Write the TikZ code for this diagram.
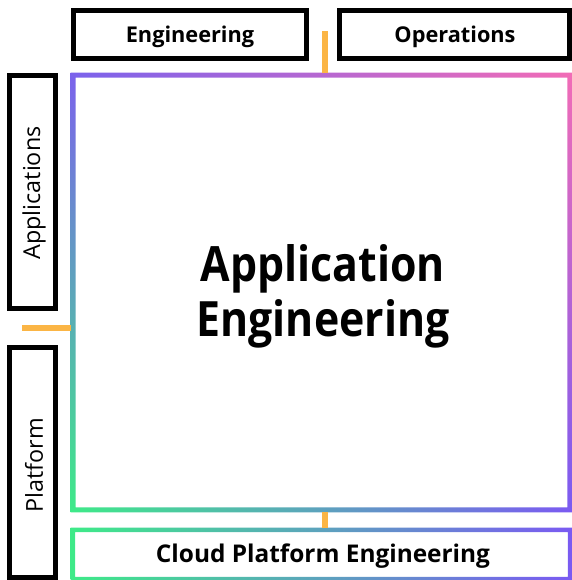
\documentclass[tikz,border=0pt]{standalone}
\usepackage{fontspec}
\usetikzlibrary{shadings}
\setmainfont{Open Sans}
\newfontfamily\bigfont[FakeStretch=0.88]{Open Sans}
\definecolor{ul}{HTML}{7B62EC}
\definecolor{ur}{HTML}{F26CB6}
\definecolor{ll}{HTML}{3EEA88}
\definecolor{lr}{HTML}{7A5AF2}
\definecolor{conn}{HTML}{FBB545}
\def\pxu{0.75pt}
\tikzset{
  x=0.75pt, y=-0.75pt,
  blackbox/.style={draw=black, line width=5*\pxu, fill=white, inner sep=0pt, text=black},
  toplabel/.style={font=\bfseries\fontsize{16.3}{19}\selectfont},
  cloudlabel/.style={font=\bfseries\fontsize{18.3}{21}\selectfont},
  sidelabel/.style={font=\fontsize{17.5}{20}\selectfont, rotate=90},
  connector/.style={draw=conn, line width=6*\pxu},
}
\begin{document}
\begin{tikzpicture}
\useasboundingbox (0,0) rectangle (571,580);
% top boxes
\node[blackbox, minimum width=233*\pxu, minimum height=48*\pxu] (eng) at (190,34.5) {};
\node[toplabel] (englbl) at (190,37) {Engineering};
\node[blackbox, minimum width=230*\pxu, minimum height=48*\pxu] (ops) at (454.5,34.5) {};
\node[toplabel] (opslbl) at (455,37) {Operations};
% side boxes
\node[blackbox, minimum width=46*\pxu, minimum height=233*\pxu] (app) at (32.5,192) {};
\node[sidelabel] (applbl) at (34,193) {Applications};
\node[blackbox, minimum width=46*\pxu, minimum height=229.5*\pxu] (plat) at (32.5,462.25) {};
\node[sidelabel] (platlbl) at (34,465) {Platform};
% main square
\node[minimum width=501*\pxu, minimum height=439*\pxu, inner sep=0pt] (main) at (321.5,292.5) {};
\shade[upper left=ul, upper right=ur, lower left=ll, lower right=lr, even odd rule]
  (main.north west) rectangle (main.south east)
  ([shift={(5,5)}]main.north west) rectangle ([shift={(-5,-5)}]main.south east);
\node[align=center, font=\bigfont\bfseries\fontsize{36.5}{41.25}\selectfont] (mainlbl) at (323,296) {Application\\Engineering};
% cloud box
\node[minimum width=501*\pxu, minimum height=53*\pxu, inner sep=0pt] (cloud) at (321.5,554.5) {};
\shade[left color=ll, right color=lr, even odd rule]
  (cloud.north west) rectangle (cloud.south east)
  ([shift={(4.5,4.5)}]cloud.north west) rectangle ([shift={(-4.5,-4.5)}]cloud.south east);
\node[cloudlabel] (cloudlbl) at (323,556) {Cloud Platform Engineering};
% connectors
\coordinate (ttop) at (325,31);
\draw[connector] (ttop) -- (ttop |- main.north);
\draw[connector] (ttop |- main.south) -- (ttop |- cloud.north);
\coordinate (lft) at (22,328);
\draw[connector] (lft) -- (lft -| main.west);
\end{tikzpicture}
\end{document}
